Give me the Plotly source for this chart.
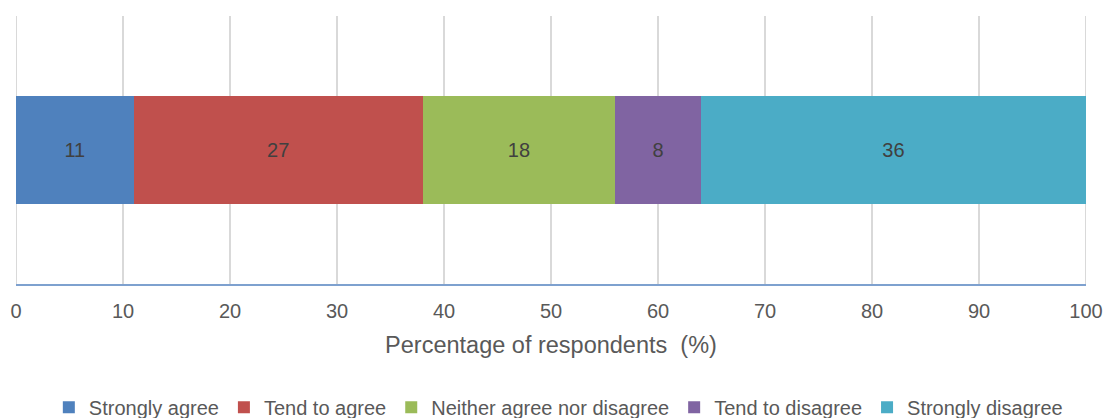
import plotly.graph_objects as go

categories = ["Strongly agree", "Tend to agree", "Neither agree nor disagree", "Tend to disagree", "Strongly disagree"]
values = [11, 27, 18, 8, 36]
colors = ["#4F81BD", "#C0504D", "#9BBB59", "#8064A2", "#4BACC6"]
tick_vals = [0, 10, 20, 30, 40, 50, 60, 70, 80, 90, 100]

FONT = "Liberation Sans, Arial, sans-serif"

fig = go.Figure()
for name, v, c in zip(categories, values, colors):
    fig.add_trace(go.Bar(
        y=[""], x=[v], name=name, orientation="h",
        marker=dict(color=c, line=dict(width=0)),
        text=[str(v)], textposition="inside", insidetextanchor="middle",
        textfont=dict(color="#404040", size=20, family=FONT),
        hoverinfo="skip",
    ))

# edge gridlines (plotly omits them at the range ends)
for xv in (tick_vals[0], tick_vals[-1]):
    fig.add_shape(type="line", xref="x", yref="paper", x0=xv, x1=xv, y0=0, y1=1,
                  line=dict(color="#D9D9D9", width=2), layer="below")

fig.update_layout(
    barmode="stack",
    bargap=0.6,
    width=1110, height=418,
    margin=dict(l=16, r=24, t=16, b=134, autoexpand=False),
    plot_bgcolor="white", paper_bgcolor="white",
    font=dict(family=FONT, color="#595959", size=20),
    showlegend=True,
    legend=dict(orientation="h", xref="container", yref="container",
                x=0.503, xanchor="center", y=0.026, yanchor="middle",
                font=dict(size=20, color="#595959", family=FONT), traceorder="normal",
                itemwidth=30, tracegroupgap=0),
    xaxis=dict(range=[0, 100], tickvals=tick_vals, showgrid=True, gridcolor="#D9D9D9", gridwidth=2,
               zeroline=False, showline=True, linecolor="#7EA1CF", linewidth=2,
               automargin=False,
               ticks="", ticklen=0, ticklabelstandoff=8,
               tickfont=dict(size=20, color="#595959", family=FONT),
               title=dict(text="Percentage of respondents  (%)",
                          font=dict(size=23.5, color="#595959", family=FONT), standoff=16)),
    yaxis=dict(showticklabels=False, showgrid=False, zeroline=False, showline=False, automargin=False),
)

fig.write_html("out.html", config={"displayModeBar": False},
               post_script="document.body.style.margin='0';")
